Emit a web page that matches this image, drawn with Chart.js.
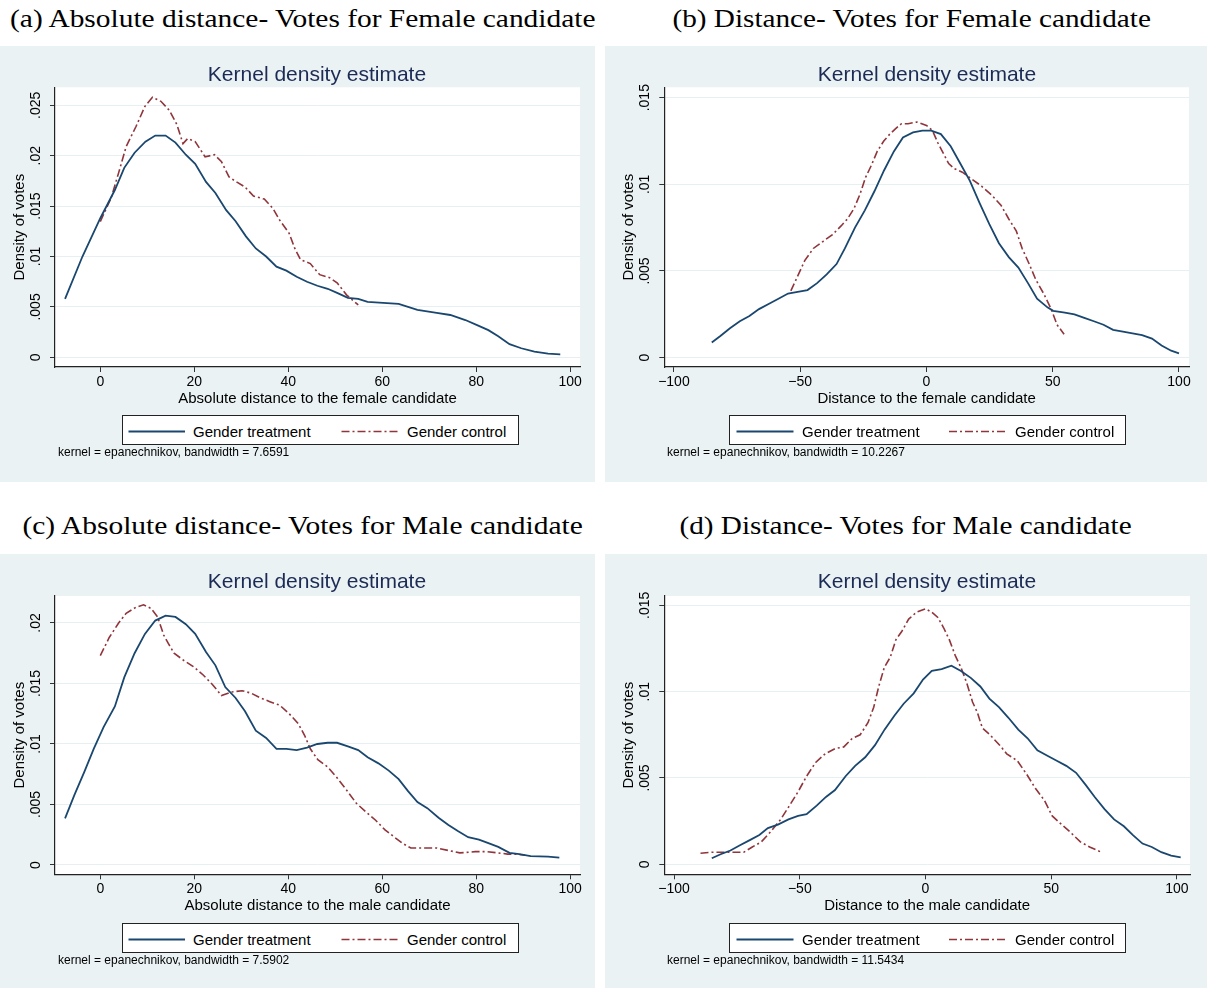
<!DOCTYPE html>
<html>
<head>
<meta charset="utf-8">
<script src="https://cdn.jsdelivr.net/npm/chart.js@4.4.1/dist/chart.umd.min.js"></script>
<style>
  html, body { margin:0; padding:0; background:#fff; }
  body { width:1207px; height:988px; position:relative; overflow:hidden; font-family:"Liberation Sans", Arial, sans-serif; }
  .panel { position:absolute; background:#eaf2f3; }
  .panel canvas { position:absolute; left:0; top:0; }
  .cap { position:absolute; white-space:nowrap; font-family:"Liberation Serif", "Times New Roman", serif; font-size:25px; line-height:25px; color:#000; transform-origin:50% 50%; }
  .ttl { position:absolute; white-space:nowrap; font-size:21px; line-height:21px; color:#1c2b55; transform:translateX(-50%); }
  .leg { position:absolute; background:#fff; border:1px solid #222; box-sizing:border-box; height:30px; width:397px; }
  .leg svg { position:absolute; left:0; top:0; }
  .leg span { position:absolute; top:8px; font-size:15px; line-height:15px; white-space:nowrap; color:#000; }
  .note { position:absolute; white-space:nowrap; font-size:12px; line-height:12px; color:#000; }
</style>
</head>
<body>

<div class="panel" style="left:0;top:46px;width:595px;height:436px"><canvas id="cA" width="595" height="436"></canvas></div>
<div class="panel" style="left:605px;top:46px;width:602px;height:436px"><canvas id="cB" width="602" height="436"></canvas></div>
<div class="panel" style="left:0;top:554px;width:595px;height:434px"><canvas id="cC" width="595" height="434"></canvas></div>
<div class="panel" style="left:605px;top:554px;width:602px;height:434px"><canvas id="cD" width="602" height="434"></canvas></div>

<span class="cap" data-cx="302.8" data-tw="586" style="top:6px">(a) Absolute distance- Votes for Female candidate</span>
<span class="cap" data-cx="911" data-tw="478" style="top:6px">(b) Distance- Votes for Female candidate</span>
<span class="cap" data-cx="302.9" data-tw="560" style="top:513px">(c) Absolute distance- Votes for Male candidate</span>
<span class="cap" data-cx="905.5" data-tw="452" style="top:513px">(d) Distance- Votes for Male candidate</span>

<span class="ttl" style="left:317px;top:63px">Kernel density estimate</span>
<span class="ttl" style="left:927px;top:63px">Kernel density estimate</span>
<span class="ttl" style="left:317px;top:570px">Kernel density estimate</span>
<span class="ttl" style="left:927px;top:570px">Kernel density estimate</span>

<div class="leg" style="left:122px;top:415px">
  <svg width="397" height="30"><line x1="5.5" y1="15.5" x2="62" y2="15.5" stroke="#1a476f" stroke-width="1.8"/><line x1="218.5" y1="15.5" x2="276" y2="15.5" stroke="#90353b" stroke-width="1.6" stroke-dasharray="8 3 2 3"/></svg>
  <span style="left:70px">Gender treatment</span><span style="left:284px">Gender control</span>
</div>
<div class="leg" style="left:729px;top:415px">
  <svg width="397" height="30"><line x1="6.5" y1="15.5" x2="63.5" y2="15.5" stroke="#1a476f" stroke-width="1.8"/><line x1="219" y1="15.5" x2="276" y2="15.5" stroke="#90353b" stroke-width="1.6" stroke-dasharray="8 3 2 3"/></svg>
  <span style="left:72px">Gender treatment</span><span style="left:285px">Gender control</span>
</div>
<div class="leg" style="left:122px;top:923px">
  <svg width="397" height="30"><line x1="5.5" y1="15.5" x2="62" y2="15.5" stroke="#1a476f" stroke-width="1.8"/><line x1="218.5" y1="15.5" x2="276" y2="15.5" stroke="#90353b" stroke-width="1.6" stroke-dasharray="8 3 2 3"/></svg>
  <span style="left:70px">Gender treatment</span><span style="left:284px">Gender control</span>
</div>
<div class="leg" style="left:729px;top:923px">
  <svg width="397" height="30"><line x1="6.5" y1="15.5" x2="63.5" y2="15.5" stroke="#1a476f" stroke-width="1.8"/><line x1="219" y1="15.5" x2="276" y2="15.5" stroke="#90353b" stroke-width="1.6" stroke-dasharray="8 3 2 3"/></svg>
  <span style="left:72px">Gender treatment</span><span style="left:285px">Gender control</span>
</div>

<span class="note" style="left:58px;top:446px">kernel = epanechnikov, bandwidth = 7.6591</span>
<span class="note" style="left:667px;top:446px">kernel = epanechnikov, bandwidth = 10.2267</span>
<span class="note" style="left:58px;top:954px">kernel = epanechnikov, bandwidth = 7.5902</span>
<span class="note" style="left:667px;top:954px">kernel = epanechnikov, bandwidth = 11.5434</span>

<script>
// ---------- DATA ----------
// (a) Absolute distance - votes for female candidate
const aTreatX = [-7.5,-3.8,0,3.1,5.1,7.3,9.6,11.7,13.9,16.0,18.2,20.2,22.5,24.5,26.8,28.8,31.0,33.1,35.3,37.5,39.6,41.8,44.0,46.2,48.4,50.4,52.7,54.9,56.9,60.2,63.5,67.5,71.6,74.5,77.7,80.2,82.6,84.7,87.1,89.6,92.4,95.3,97.9];
const aTreatY = [0.0058,0.0100,0.0138,0.0166,0.0188,0.0203,0.0214,0.0220,0.0220,0.0213,0.0201,0.0192,0.0174,0.0163,0.0146,0.0135,0.0120,0.0108,0.0100,0.0090,0.0086,0.0080,0.0075,0.0071,0.0068,0.0064,0.0059,0.0058,0.0055,0.0054,0.0053,0.0047,0.0044,0.0042,0.0037,0.0032,0.0027,0.0021,0.0013,0.0009,0.00056,0.00036,0.0003];
const aCtrlX = [0,2.3,3.9,5.5,7.6,9.5,11.1,12.9,14.7,16.3,17.6,18.6,20.2,22.3,24.3,25.8,27.4,29.0,30.8,32.6,34.9,36.7,38.2,40.2,41.4,42.6,44.7,46.7,48.8,50.4,52.4,54.9];
const aCtrlY = [0.01347,0.0158,0.0183,0.0209,0.0229,0.0249,0.0258,0.0254,0.0245,0.0231,0.0212,0.0217,0.0214,0.0199,0.0201,0.0194,0.0179,0.0174,0.0169,0.0160,0.0157,0.0148,0.0136,0.0123,0.0108,0.0097,0.0093,0.0082,0.0079,0.0074,0.0062,0.0052];

// (b) Distance - votes for female candidate
const bTreatX = [-85.0,-81.6,-77.8,-73.9,-70.1,-66.3,-62.5,-58.6,-54.8,-51.0,-47.1,-43.3,-39.5,-35.6,-32.3,-28.3,-24.4,-20.6,-16.8,-12.9,-9.3,-5.3,-1.6,1.9,5.7,9.6,13.4,17.2,21.1,24.9,28.7,32.6,36.4,40.2,43.8,47.9,50.2,54.8,58.6,62.5,66.3,70.1,73.9,77.8,81.6,85.4,89.3,93.1,96.9,100.0];
const bTreatY = [0.00087,0.00125,0.0017,0.0021,0.0024,0.0028,0.0031,0.0034,0.0037,0.0038,0.0039,0.0043,0.0048,0.0054,0.0063,0.0075,0.0085,0.0096,0.0108,0.0119,0.0127,0.0130,0.0131,0.0131,0.0129,0.0122,0.0112,0.0102,0.0089,0.0077,0.0066,0.0058,0.0052,0.0043,0.0034,0.0029,0.0027,0.0026,0.0025,0.0023,0.0021,0.0019,0.0016,0.0015,0.0014,0.0013,0.0011,0.0007,0.0004,0.00025];
const bCtrlX = [-53.7,-51.0,-48.2,-44.8,-41.0,-37.2,-33.8,-31.3,-28.7,-26.4,-24.1,-21.8,-19.5,-16.9,-14.5,-12.3,-9.9,-7.3,-3.8,0,2.4,4.5,7.0,8.8,11.1,14.2,18.0,21.8,25.7,29.5,32.6,35.6,37.9,40.7,43.3,46.4,49.4,51.7,54.5];
const bCtrlY = [0.00385,0.0047,0.0056,0.0063,0.0067,0.0071,0.0076,0.0080,0.0086,0.0094,0.0104,0.0111,0.0119,0.0125,0.0129,0.0132,0.0135,0.0135,0.0136,0.0134,0.0131,0.0124,0.0117,0.0112,0.0109,0.0107,0.0103,0.0099,0.0094,0.0088,0.0080,0.0073,0.0063,0.0054,0.0045,0.0037,0.0028,0.0019,0.00135];

// (c) Absolute distance - votes for male candidate
const cTreatX = [-7.5,-5.5,-3.4,-1.4,0.7,3.1,5.1,7.3,9.5,11.7,13.9,16.0,18.2,20.2,22.5,24.5,26.6,28.8,30.8,33.1,35.3,37.5,39.6,41.8,44.0,46.2,48.4,50.4,52.7,54.9,56.9,59.2,61.4,63.5,65.5,67.5,69.6,72.0,74.1,76.1,78.3,80.6,82.6,84.7,87.1,89.2,91.6,95.3,97.7];
const cTreatY = [0.00385,0.0058,0.0077,0.0096,0.0114,0.0131,0.0155,0.0175,0.0191,0.0202,0.0206,0.0205,0.0199,0.0191,0.0176,0.0165,0.0147,0.0138,0.0127,0.0111,0.0105,0.0096,0.0096,0.0095,0.0097,0.0100,0.0101,0.0101,0.0098,0.0095,0.0089,0.0084,0.0078,0.0071,0.0061,0.0052,0.0047,0.0039,0.0033,0.0028,0.0023,0.0021,0.0018,0.0015,0.0010,0.0009,0.00074,0.00069,0.0006];
const cCtrlX = [0,1.9,3.9,5.5,7.6,9.2,10.8,12.2,13.5,14.5,15.7,17.8,19.8,21.9,23.9,25.8,28.0,30.2,32.1,34.1,36.1,38.2,40.2,42.1,43.5,44.7,46.3,48.4,50.4,52.4,54.5,56.5,58.6,60.6,62.6,64.3,66.1,68.4,71.6,74.1,76.5,79.8,82.2,84.7,86.7,88.7,90.4];
const cCtrlY = [0.0173,0.0188,0.0200,0.0208,0.0213,0.0215,0.0212,0.0205,0.0190,0.0183,0.0175,0.0169,0.0164,0.0157,0.0149,0.0140,0.0143,0.0144,0.0142,0.0138,0.0135,0.0132,0.0125,0.0117,0.0107,0.0096,0.0087,0.0081,0.0072,0.0062,0.0051,0.0044,0.0037,0.0029,0.0023,0.0018,0.0014,0.0014,0.0014,0.0012,0.0010,0.0011,0.0011,0.0010,0.0009,0.0009,0.0008];

// (d) Distance - votes for male candidate
const dTreatX = [-85.0,-81.5,-77.6,-73.8,-69.9,-66.1,-62.7,-58.7,-54.5,-50.7,-47.3,-43.3,-39.6,-36.0,-31.8,-28.0,-24.0,-20.1,-16.3,-12.4,-8.7,-4.7,-1.0,2.5,6.4,10.3,14.1,18.0,21.8,25.4,29.2,32.9,36.9,40.6,44.5,48.3,52.2,56.0,59.9,63.7,67.3,71.2,75.0,78.9,82.4,86.3,90.0,93.8,97.7,101.5];
const dTreatY = [0.00035,0.00058,0.0008,0.0011,0.0014,0.0017,0.0021,0.0023,0.0026,0.0028,0.0029,0.0034,0.0039,0.0043,0.0051,0.0057,0.0062,0.0069,0.0078,0.0086,0.0093,0.0099,0.0107,0.0112,0.0113,0.0115,0.0112,0.0108,0.0103,0.0096,0.0091,0.0085,0.0078,0.0073,0.0066,0.0063,0.0060,0.0057,0.0053,0.0046,0.0039,0.0032,0.0026,0.0022,0.0017,0.0012,0.0010,0.0007,0.0005,0.0004];
const dCtrlX = [-89.5,-84.6,-80.0,-76.1,-72.3,-68.9,-65.3,-61.5,-57.6,-54.1,-50.7,-47.3,-43.7,-39.9,-36.0,-32.5,-29.1,-26.0,-22.9,-20.6,-18.6,-16.4,-14.0,-11.8,-9.4,-6.7,-3.6,0,2.5,4.9,7.2,9.5,11.8,14.1,16.4,18.7,20.6,22.6,25.6,29.5,32.3,36.5,40.3,43.7,47.3,50.4,53.4,57.3,61.6,65.3,69.9];
const dCtrlY = [0.00064,0.0007,0.0007,0.0007,0.0007,0.0010,0.0013,0.0019,0.0026,0.0034,0.0042,0.0051,0.0059,0.0064,0.0067,0.0068,0.0073,0.0075,0.0082,0.0091,0.0103,0.0114,0.0120,0.0130,0.0135,0.0142,0.0146,0.0148,0.0146,0.0143,0.0137,0.0130,0.0121,0.0114,0.0105,0.0094,0.0088,0.0079,0.0075,0.0069,0.0064,0.0060,0.0052,0.0044,0.0037,0.0028,0.0024,0.0019,0.0013,0.0010,0.0007];

// tick values and labels
const xTicksAbs = [0, 20, 40, 60, 80, 100];
const xLabelsAbs = ['0', '20', '40', '60', '80', '100'];
const xTicksDist = [-100, -50, 0, 50, 100];
const xLabelsDist = ['\u2212100', '\u221250', '0', '50', '100'];
const yTicksA = [0, 0.005, 0.01, 0.015, 0.02, 0.025];
const yLabelsA = ['0', '.005', '.01', '.015', '.02', '.025'];
const yTicksB = [0, 0.005, 0.01, 0.015];
const yLabelsB = ['0', '.005', '.01', '.015'];
const yTicksC = [0, 0.005, 0.01, 0.015, 0.02];
const yLabelsC = ['0', '.005', '.01', '.015', '.02'];
const yTicksD = [0, 0.005, 0.01, 0.015];
const yLabelsD = ['0', '.005', '.01', '.015'];

const seriesNames = ['Gender treatment', 'Gender control'];
const yAxisTitle = 'Density of votes';

// ---------- STYLE ----------
const NAVY = '#1a476f', MAROON = '#90353b', GRID = '#e6eff1', AXIS = '#222';
const FONT = '"Liberation Sans", Arial, sans-serif';

const plotBg = {
  id: 'plotBg',
  beforeDraw(chart) {
    const {ctx, chartArea: a} = chart;
    ctx.save();
    ctx.fillStyle = '#ffffff';
    ctx.fillRect(a.left, a.top, a.right - a.left, a.bottom - a.top);
    ctx.restore();
  }
};

const pts = (xs, ys) => xs.map((x, i) => ({x: x, y: ys[i]}));

function build(id, p) {
  new Chart(document.getElementById(id), {
    type: 'line',
    data: {
      datasets: [
        { label: seriesNames[0], data: pts(p.tx, p.ty), borderColor: NAVY, borderWidth: 1.8, pointRadius: 0, fill: false, tension: 0 },
        { label: seriesNames[1], data: pts(p.cx, p.cy), borderColor: MAROON, borderWidth: 1.6, borderDash: [8, 3, 2, 3], pointRadius: 0, fill: false, tension: 0 }
      ]
    },
    options: {
      responsive: false, animation: false, devicePixelRatio: 1,
      layout: { autoPadding: false, padding: { left: p.padL, right: p.padR, top: p.padT, bottom: p.padB } },
      plugins: { legend: { display: false }, tooltip: { enabled: false }, title: { display: false } },
      scales: {
        x: {
          type: 'linear', min: p.xmin, max: p.xmax,
          afterFit: s => { s.height = 50; },
          afterBuildTicks: s => { s.ticks = p.xt.map(v => ({value: v})); },
          ticks: { autoSkip: false, minRotation: 0, maxRotation: 0, padding: 1.3, color: '#000', font: { family: FONT, size: 14 }, callback: (v, i) => p.xl[i] },
          grid: { display: true, drawOnChartArea: false, drawTicks: true, tickLength: 5, tickColor: '#333', tickWidth: 1 },
          border: { display: true, color: AXIS, width: 1.2 },
          title: { display: true, text: p.xTitle, color: '#000', font: { family: FONT, size: 15 }, padding: { top: 0, bottom: 9 } }
        },
        y: {
          type: 'linear', min: p.ymin, max: p.ymax,
          afterFit: s => { s.width = 55; },
          afterBuildTicks: s => { s.ticks = p.yt.map(v => ({value: v})); },
          ticks: { autoSkip: false, minRotation: 90, maxRotation: 90, crossAlign: 'center', padding: 0.4, color: '#000', font: { family: FONT, size: 14 }, callback: (v, i) => p.yl[i] },
          grid: { display: true, drawOnChartArea: true, color: GRID, lineWidth: 1, drawTicks: true, tickLength: 5, tickColor: '#333', tickWidth: 1 },
          border: { display: true, color: AXIS, width: 1.2 },
          title: { display: true, text: yAxisTitle, color: '#000', font: { family: FONT, size: 15 }, padding: { top: 11, bottom: 0 } }
        }
      }
    },
    plugins: [plotBg]
  });
}

build('cA', { tx: aTreatX, ty: aTreatY, cx: aCtrlX, cy: aCtrlY, xt: xTicksAbs, xl: xLabelsAbs, yt: yTicksA, yl: yLabelsA,
  xmin: -9.64, xmax: 102.1, ymin: -0.00096, ymax: 0.02679, xTitle: 'Absolute distance to the female candidate',
  padL: 0, padR: 15, padT: 41.3, padB: 65 });
build('cB', { tx: bTreatX, ty: bTreatY, cx: bCtrlX, cy: bCtrlY, xt: xTicksDist, xl: xLabelsDist, yt: yTicksB, yl: yLabelsB,
  xmin: -103.8, xmax: 103.96, ymin: -0.00054, ymax: 0.0156, xTitle: 'Distance to the female candidate',
  padL: 4.3, padR: 18, padT: 41.3, padB: 65 });
build('cC', { tx: cTreatX, ty: cTreatY, cx: cCtrlX, cy: cCtrlY, xt: xTicksAbs, xl: xLabelsAbs, yt: yTicksC, yl: yLabelsC,
  xmin: -9.64, xmax: 102.1, ymin: -0.00077, ymax: 0.02223, xTitle: 'Absolute distance to the male candidate',
  padL: 0, padR: 15, padT: 42, padB: 63.7 });
build('cD', { tx: dTreatX, ty: dTreatY, cx: dCtrlX, cy: dCtrlY, xt: xTicksDist, xl: xLabelsDist, yt: yTicksD, yl: yLabelsD,
  xmin: -103.9, xmax: 105.2, ymin: -0.00058, ymax: 0.01554, xTitle: 'Distance to the male candidate',
  padL: 4.3, padR: 17, padT: 42, padB: 63.7 });

// fit serif captions to the reference widths
document.querySelectorAll('.cap').forEach(el => {
  const w = el.offsetWidth;
  const cx = parseFloat(el.dataset.cx), tw = parseFloat(el.dataset.tw);
  el.style.left = (cx - w / 2) + 'px';
  el.style.transform = 'scaleX(' + (tw / w) + ')';
});
</script>
</body>
</html>
